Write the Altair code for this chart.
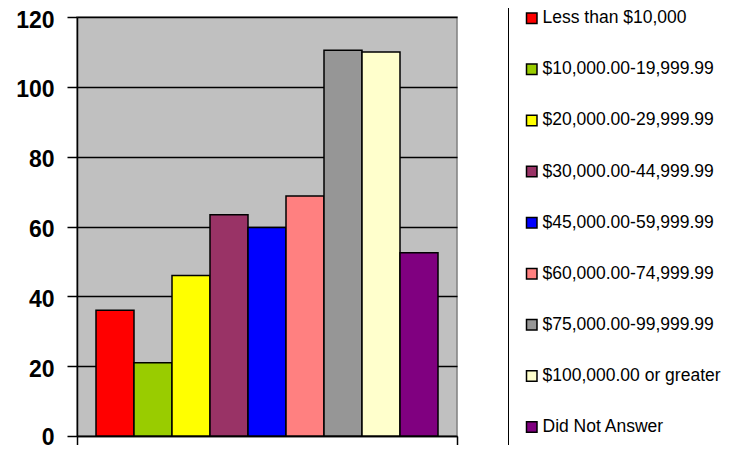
import altair as alt
import pandas as pd

categories = [
    "Less than $10,000",
    "$10,000.00-19,999.99",
    "$20,000.00-29,999.99",
    "$30,000.00-44,999.99",
    "$45,000.00-59,999.99",
    "$60,000.00-74,999.99",
    "$75,000.00-99,999.99",
    "$100,000.00 or greater",
    "Did Not Answer",
]
values = [36, 21, 46, 63.4, 59.7, 68.7, 110.5, 110, 52.5]
colors = ["#FF0000", "#99CC00", "#FFFF00", "#993366", "#0000FF",
          "#FF8080", "#969696", "#FFFFCC", "#800080"]
y_ticks = [0, 20, 40, 60, 80, 100, 120]

df = pd.DataFrame({"group": ["all"] * len(categories),
                   "income": categories, "count": values})

chart = alt.Chart(df).mark_bar(
    stroke="black", strokeWidth=1.5, opacity=1
).encode(
    x=alt.X("group:N", title=None,
            scale=alt.Scale(paddingInner=0, paddingOuter=0),
            axis=alt.Axis(labels=False, tickBand="extent", tickSize=10,
                          tickColor="black", tickWidth=1.5,
                          domainColor="black", domainWidth=1.5)),
    xOffset=alt.XOffset("income:N", sort=categories,
                        scale=alt.Scale(paddingInner=0, paddingOuter=0.5)),
    y=alt.Y("count:Q", title=None,
            scale=alt.Scale(domain=[0, 120], nice=False),
            axis=alt.Axis(values=y_ticks, tickSize=10, tickColor="black",
                          tickWidth=1.5, domainColor="black", domainWidth=1.5,
                          gridColor="black", gridWidth=1.5,
                          labelFont="Liberation Sans", labelFontWeight="bold",
                          labelFontSize=23, labelColor="black",
                          labelPadding=13,
                          labelOffset={"condition": {"test": "datum.value == 0",
                                                     "value": 1},
                                       "value": 3})),
    fill=alt.Fill("income:N", sort=categories,
                  scale=alt.Scale(domain=categories, range=colors),
                  legend=alt.Legend(
                      title=None, orient="none", legendX=431, legendY=-22.5,
                      strokeColor="black", fillColor="white", padding=15,
                      symbolType="square", symbolSize=110,
                      symbolStrokeColor="black", symbolStrokeWidth=1.5,
                      symbolOpacity=1, labelFont="Liberation Sans",
                      labelFontSize=17.5, labelColor="black", labelOffset=2,
                      labelLimit=400, rowPadding=32.1)),
).properties(
    width=380, height=419,
    autosize=alt.AutoSizeParams(type="none"),
    padding={"left": 69, "top": 9, "right": 279, "bottom": 9},
).configure_view(
    fill="#C0C0C0", stroke="#808080", strokeWidth=1.5
)

chart.save("out.html", embed_options={"renderer": "svg", "actions": False})
